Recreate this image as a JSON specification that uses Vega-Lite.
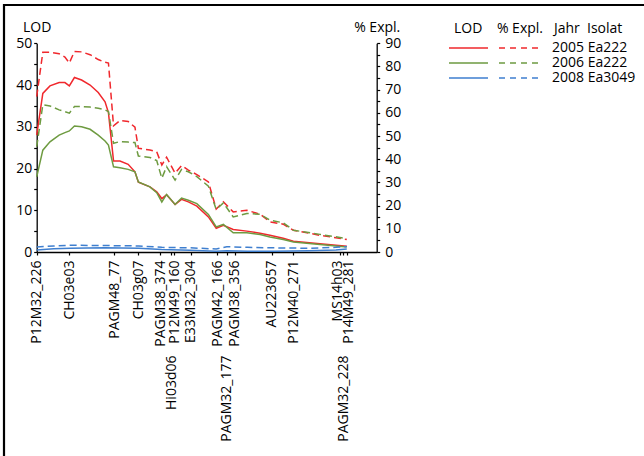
{
  "$schema": "https://vega.github.io/schema/vega-lite/v6.json",
  "width": 640,
  "height": 451,
  "autosize": "none",
  "padding": {"left": 4, "top": 5, "right": 0, "bottom": 0},
  "background": "white",
  "config": {
    "font": "Open Sans",
    "view": {"stroke": "black", "strokeWidth": 2.2, "strokeDash": [640, 1091, 451]},
    "axis": {"labelFont": "Open Sans", "titleFont": "Open Sans", "labelFontSize": 14, "titleFontSize": 14, "titleFontWeight": "normal", "labelColor": "black", "titleColor": "black", "domainColor": "black", "tickColor": "black", "domainWidth": 1.3, "tickWidth": 1.2, "grid": false},
    "legend": {"labelFont": "Open Sans", "titleFont": "Open Sans"}
  },
  "data": {"values": [
    {"x": 0, "jahr": "2005", "isolat": "Ea222", "lod": 28.0, "expl": 67.0},
    {"x": 1.8, "jahr": "2005", "isolat": "Ea222", "lod": 38.0, "expl": 86.1},
    {"x": 3.9, "jahr": "2005", "isolat": "Ea222", "lod": 39.8, "expl": 86.1},
    {"x": 6.6, "jahr": "2005", "isolat": "Ea222", "lod": 40.6, "expl": 85.5},
    {"x": 8.3, "jahr": "2005", "isolat": "Ea222", "lod": 40.6, "expl": 84.1},
    {"x": 9.6, "jahr": "2005", "isolat": "Ea222", "lod": 39.8, "expl": 81.5},
    {"x": 11.1, "jahr": "2005", "isolat": "Ea222", "lod": 41.8, "expl": 86.5},
    {"x": 13.2, "jahr": "2005", "isolat": "Ea222", "lod": 41.2, "expl": 86.3},
    {"x": 15.7, "jahr": "2005", "isolat": "Ea222", "lod": 40.0, "expl": 85.1},
    {"x": 18.1, "jahr": "2005", "isolat": "Ea222", "lod": 38.2, "expl": 83.0},
    {"x": 20.1, "jahr": "2005", "isolat": "Ea222", "lod": 36.0, "expl": 81.8},
    {"x": 21.1, "jahr": "2005", "isolat": "Ea222", "lod": 33.4, "expl": 81.5},
    {"x": 22.6, "jahr": "2005", "isolat": "Ea222", "lod": 21.8, "expl": 54.4},
    {"x": 24.5, "jahr": "2005", "isolat": "Ea222", "lod": 21.8, "expl": 56.7},
    {"x": 26.9, "jahr": "2005", "isolat": "Ea222", "lod": 21.0, "expl": 56.3},
    {"x": 28.9, "jahr": "2005", "isolat": "Ea222", "lod": 19.2, "expl": 53.8},
    {"x": 29.9, "jahr": "2005", "isolat": "Ea222", "lod": 16.7, "expl": 44.7},
    {"x": 33.3, "jahr": "2005", "isolat": "Ea222", "lod": 15.6, "expl": 44.0},
    {"x": 35.3, "jahr": "2005", "isolat": "Ea222", "lod": 14.4, "expl": 43.2},
    {"x": 36.8, "jahr": "2005", "isolat": "Ea222", "lod": 12.8, "expl": 37.5},
    {"x": 38.2, "jahr": "2005", "isolat": "Ea222", "lod": 13.7, "expl": 40.9},
    {"x": 40.7, "jahr": "2005", "isolat": "Ea222", "lod": 11.4, "expl": 34.0},
    {"x": 42.6, "jahr": "2005", "isolat": "Ea222", "lod": 12.6, "expl": 37.3},
    {"x": 44.6, "jahr": "2005", "isolat": "Ea222", "lod": 12.0, "expl": 35.3},
    {"x": 47.1, "jahr": "2005", "isolat": "Ea222", "lod": 11.0, "expl": 33.4},
    {"x": 50.5, "jahr": "2005", "isolat": "Ea222", "lod": 8.4, "expl": 30.2},
    {"x": 52.8, "jahr": "2005", "isolat": "Ea222", "lod": 5.7, "expl": 18.5},
    {"x": 54.9, "jahr": "2005", "isolat": "Ea222", "lod": 6.4, "expl": 21.6},
    {"x": 57.8, "jahr": "2005", "isolat": "Ea222", "lod": 5.4, "expl": 17.3},
    {"x": 61.8, "jahr": "2005", "isolat": "Ea222", "lod": 5.0, "expl": 18.0},
    {"x": 65.7, "jahr": "2005", "isolat": "Ea222", "lod": 4.5, "expl": 16.3},
    {"x": 68.6, "jahr": "2005", "isolat": "Ea222", "lod": 4.0, "expl": 13.0},
    {"x": 72.5, "jahr": "2005", "isolat": "Ea222", "lod": 3.3, "expl": 12.0},
    {"x": 75.5, "jahr": "2005", "isolat": "Ea222", "lod": 2.6, "expl": 9.4},
    {"x": 83.3, "jahr": "2005", "isolat": "Ea222", "lod": 2.0, "expl": 7.2},
    {"x": 91.2, "jahr": "2005", "isolat": "Ea222", "lod": 1.4, "expl": 5.4},
    {"x": 0, "jahr": "2006", "isolat": "Ea222", "lod": 18.0, "expl": 45.4},
    {"x": 1.8, "jahr": "2006", "isolat": "Ea222", "lod": 24.4, "expl": 63.5},
    {"x": 3.9, "jahr": "2006", "isolat": "Ea222", "lod": 26.4, "expl": 63.0},
    {"x": 6.6, "jahr": "2006", "isolat": "Ea222", "lod": 28.0, "expl": 61.3},
    {"x": 8.3, "jahr": "2006", "isolat": "Ea222", "lod": 28.6, "expl": 60.5},
    {"x": 9.6, "jahr": "2006", "isolat": "Ea222", "lod": 29.0, "expl": 59.9},
    {"x": 11.1, "jahr": "2006", "isolat": "Ea222", "lod": 30.2, "expl": 62.7},
    {"x": 13.2, "jahr": "2006", "isolat": "Ea222", "lod": 30.0, "expl": 62.7},
    {"x": 15.7, "jahr": "2006", "isolat": "Ea222", "lod": 29.4, "expl": 62.5},
    {"x": 18.1, "jahr": "2006", "isolat": "Ea222", "lod": 28.0, "expl": 62.0},
    {"x": 20.1, "jahr": "2006", "isolat": "Ea222", "lod": 26.6, "expl": 61.3},
    {"x": 21.1, "jahr": "2006", "isolat": "Ea222", "lod": 25.6, "expl": 60.6},
    {"x": 22.6, "jahr": "2006", "isolat": "Ea222", "lod": 20.4, "expl": 46.9},
    {"x": 24.5, "jahr": "2006", "isolat": "Ea222", "lod": 20.2, "expl": 47.6},
    {"x": 26.9, "jahr": "2006", "isolat": "Ea222", "lod": 19.8, "expl": 47.4},
    {"x": 28.9, "jahr": "2006", "isolat": "Ea222", "lod": 19.2, "expl": 47.2},
    {"x": 29.9, "jahr": "2006", "isolat": "Ea222", "lod": 16.8, "expl": 41.4},
    {"x": 33.3, "jahr": "2006", "isolat": "Ea222", "lod": 15.6, "expl": 40.8},
    {"x": 35.3, "jahr": "2006", "isolat": "Ea222", "lod": 14.2, "expl": 39.4},
    {"x": 36.8, "jahr": "2006", "isolat": "Ea222", "lod": 12.0, "expl": 31.8},
    {"x": 38.2, "jahr": "2006", "isolat": "Ea222", "lod": 13.8, "expl": 36.8},
    {"x": 40.7, "jahr": "2006", "isolat": "Ea222", "lod": 11.4, "expl": 31.0},
    {"x": 42.6, "jahr": "2006", "isolat": "Ea222", "lod": 12.9, "expl": 35.6},
    {"x": 44.6, "jahr": "2006", "isolat": "Ea222", "lod": 12.4, "expl": 34.6},
    {"x": 47.1, "jahr": "2006", "isolat": "Ea222", "lod": 11.6, "expl": 32.5},
    {"x": 50.5, "jahr": "2006", "isolat": "Ea222", "lod": 9.0, "expl": 28.4},
    {"x": 52.8, "jahr": "2006", "isolat": "Ea222", "lod": 6.0, "expl": 18.3},
    {"x": 54.9, "jahr": "2006", "isolat": "Ea222", "lod": 6.6, "expl": 21.2},
    {"x": 57.8, "jahr": "2006", "isolat": "Ea222", "lod": 4.6, "expl": 15.1},
    {"x": 61.8, "jahr": "2006", "isolat": "Ea222", "lod": 4.6, "expl": 16.6},
    {"x": 65.7, "jahr": "2006", "isolat": "Ea222", "lod": 4.2, "expl": 16.3},
    {"x": 68.6, "jahr": "2006", "isolat": "Ea222", "lod": 3.6, "expl": 13.7},
    {"x": 72.5, "jahr": "2006", "isolat": "Ea222", "lod": 3.0, "expl": 12.6},
    {"x": 75.5, "jahr": "2006", "isolat": "Ea222", "lod": 2.4, "expl": 9.4},
    {"x": 83.3, "jahr": "2006", "isolat": "Ea222", "lod": 1.8, "expl": 7.6},
    {"x": 91.2, "jahr": "2006", "isolat": "Ea222", "lod": 1.2, "expl": 5.8},
    {"x": 0, "jahr": "2008", "isolat": "Ea3049", "lod": 0.5, "expl": 2.2},
    {"x": 5, "jahr": "2008", "isolat": "Ea3049", "lod": 0.8, "expl": 2.6},
    {"x": 10, "jahr": "2008", "isolat": "Ea3049", "lod": 0.9, "expl": 2.9},
    {"x": 20, "jahr": "2008", "isolat": "Ea3049", "lod": 1.0, "expl": 2.8},
    {"x": 30, "jahr": "2008", "isolat": "Ea3049", "lod": 0.9, "expl": 2.6},
    {"x": 36.8, "jahr": "2008", "isolat": "Ea3049", "lod": 0.6, "expl": 2.0},
    {"x": 45, "jahr": "2008", "isolat": "Ea3049", "lod": 0.4, "expl": 1.8},
    {"x": 52.8, "jahr": "2008", "isolat": "Ea3049", "lod": 0.2, "expl": 1.3},
    {"x": 55.9, "jahr": "2008", "isolat": "Ea3049", "lod": 0.3, "expl": 2.3},
    {"x": 62, "jahr": "2008", "isolat": "Ea3049", "lod": 0.2, "expl": 2.0},
    {"x": 70, "jahr": "2008", "isolat": "Ea3049", "lod": 0.2, "expl": 1.8},
    {"x": 80, "jahr": "2008", "isolat": "Ea3049", "lod": 0.3, "expl": 1.6},
    {"x": 88, "jahr": "2008", "isolat": "Ea3049", "lod": 0.5, "expl": 2.0},
    {"x": 91.2, "jahr": "2008", "isolat": "Ea3049", "lod": 0.7, "expl": 2.4}
  ]},
  "layer": [
    {
      "mark": {"type": "line", "strokeWidth": 1.5, "clip": false},
      "encoding": {
        "x": {"field": "x", "type": "quantitative",
          "scale": {"domain": [0, 100], "range": [32.7, 372.7], "nice": false, "zero": false},
          "axis": {"orient": "bottom", "offset": -204, "title": null,
            "values": [0, 9.5, 22.8, 29.9, 36.3, 40.4, 45.3, 53.1, 58.3, 69.1, 75.5, 89.2, 91.2],
            "labelExpr": "{'0':'P12M32_226','9.5':'CH03e03','22.8':'PAGM48_77','29.9':'CH03g07','36.3':'PAGM38_374','40.4':'P12M49_160','45.3':'E33M32_304','53.1':'PAGM42_166','58.3':'PAGM38_356','69.1':'AU223657','75.5':'P12M40_271','89.2':'MS14h03','91.2':'P14M49_281'}[datum.value]",
            "labelOffset": {"expr": "datum.value === 89.2 ? -2 : (datum.value === 91.2 ? 2 : 0)"},
            "labelAngle": 270, "labelAlign": "right", "labelBaseline": "middle",
            "tickSize": 3, "labelPadding": 5, "labelOverlap": false, "labelFlush": false, "labelBound": false}},
        "y": {"field": "lod", "type": "quantitative",
          "scale": {"domain": [0, 50], "range": [247, 38.3], "nice": false},
          "axis": {"orient": "left", "offset": -32.7,
            "values": [0, 5, 10, 15, 20, 25, 30, 35, 40, 45, 50],
            "labelExpr": "datum.value % 10 === 0 ? datum.label : ''",
            "tickSize": 3, "labelPadding": 2, "labelOverlap": false, "labelFlush": false,
            "title": "LOD", "titleAngle": 0, "titleX": 0, "titleY": 22, "titleAlign": "center", "titleBaseline": "middle"}},
        "stroke": {"field": "jahr", "type": "nominal",
          "scale": {"domain": ["2005", "2006", "2008"], "range": ["#f0282d", "#6e9b41", "#3f7fcf"]},
          "legend": {"orient": "none", "legendX": 450, "legendY": 17, "padding": 0,
            "title": "LOD\u00a0\u00a0\u00a0\u00a0% Expl.\u00a0\u00a0\u00a0Jahr\u00a0\u00a0Isolat",
            "titleFontSize": 14, "titleFontWeight": "normal", "titleColor": "black", "titlePadding": 5,
            "labelExpr": "{'2005':'2005 Ea222','2006':'2006 Ea222','2008':'2008 Ea3049'}[datum.label]",
            "labelFontSize": 14, "labelColor": "black", "labelOffset": 84,
            "symbolType": "M-12,0H27M38,0H44M49,0H55M60,0H66M71,0H77",
            "symbolSize": 4, "symbolStrokeWidth": 1.5, "symbolOffset": 0, "symbolDash": [1, 0],
            "rowPadding": 1}}
      }
    },
    {
      "mark": {"type": "line", "strokeWidth": 1.5, "strokeDash": [7, 4], "clip": false},
      "encoding": {
        "x": {"field": "x", "type": "quantitative",
          "scale": {"domain": [0, 100], "range": [32.7, 372.7], "nice": false, "zero": false},
          "axis": {"orient": "bottom", "offset": -204, "title": null, "domain": false,
            "values": [39.5, 55.9, 90.2],
            "labelExpr": "{'39.5':'Hi03d06','55.9':'PAGM32_177','90.2':'PAGM32_228'}[datum.value]",
            "labelAngle": 270, "labelAlign": "right", "labelBaseline": "middle",
            "tickSize": 3, "labelPadding": 100, "labelOverlap": false, "labelFlush": false, "labelBound": false}},
        "y": {"field": "expl", "type": "quantitative",
          "scale": {"domain": [0, 90], "range": [247, 38.3], "nice": false},
          "axis": {"orient": "right", "offset": -267.3,
            "values": [0, 5, 10, 15, 20, 25, 30, 35, 40, 45, 50, 55, 60, 65, 70, 75, 80, 85, 90],
            "labelExpr": "datum.value % 10 === 0 ? datum.label : ''",
            "tickSize": 3, "labelPadding": 5, "labelOverlap": false, "labelFlush": false,
            "title": "% Expl.", "titleAngle": 0, "titleX": 0, "titleY": 22, "titleAlign": "center", "titleBaseline": "middle"}},
        "stroke": {"field": "jahr", "type": "nominal"}
      }
    }
  ],
  "resolve": {"scale": {"x": "independent", "y": "independent"}, "axis": {"x": "independent", "y": "independent"}}
}
